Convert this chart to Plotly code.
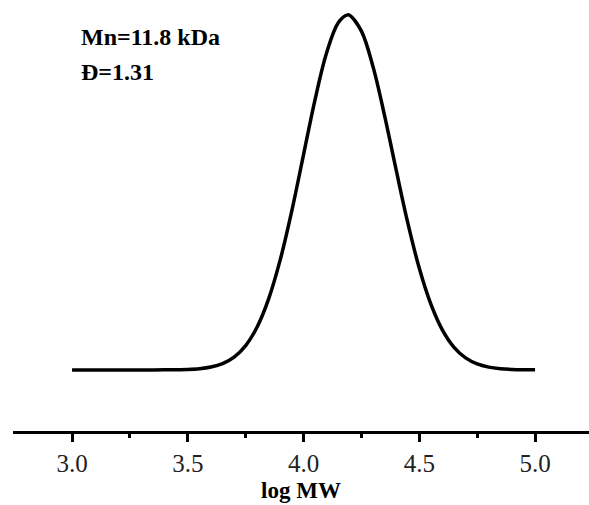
import plotly.graph_objects as go

# log MW values and normalized signal
log_mw = [3.00, 3.10, 3.20, 3.30, 3.40, 3.50, 3.55, 3.60, 3.65, 3.70, 3.75, 3.80, 3.85,
          3.90, 3.95, 4.00, 4.05, 4.10, 4.15, 4.19, 4.20, 4.25, 4.30, 4.35, 4.40,
          4.45, 4.50, 4.55, 4.60, 4.65, 4.70, 4.75, 4.80, 4.85, 4.90, 4.95, 5.00]
signal = [0.000, 0.000, 0.000, 0.000, 0.0003, 0.0014, 0.0034, 0.0081, 0.0176, 0.036, 0.0685,
          0.1216, 0.2017, 0.312, 0.4503, 0.6065, 0.7623, 0.8939, 0.978, 1.000, 0.9987,
          0.9542, 0.8543, 0.7166, 0.5633, 0.4148, 0.2863, 0.1851, 0.1121, 0.0637, 0.0339,
          0.0169, 0.0079, 0.0034, 0.0014, 0.0005, 0.0002]

tick_vals = [3.0, 3.5, 4.0, 4.5, 5.0]
tick_text = ["3.0", "3.5", "4.0", "4.5", "5.0"]
x_title = "log MW"
notes = ["Mn=11.8 kDa", "Đ=1.31"]

SERIF = "Liberation Serif, Times New Roman, DejaVu Serif, serif"

fig = go.Figure()
fig.add_trace(go.Scatter(x=log_mw, y=signal, mode="lines",
                         line=dict(color="black", width=3.5, shape="spline"),
                         showlegend=False, hoverinfo="skip"))

fig.update_layout(
    width=589, height=505,
    margin=dict(l=13, r=0, t=0, b=74),
    paper_bgcolor="white", plot_bgcolor="white",
    xaxis=dict(range=[2.745, 5.233], showgrid=False, zeroline=False,
               showline=True, linecolor="black", linewidth=3,
               tickmode="array", tickvals=tick_vals, ticktext=tick_text,
               ticks="outside", ticklen=8, tickwidth=3, tickcolor="black",
               minor=dict(tickvals=[3.25, 3.75, 4.25, 4.75], ticks="outside",
                          ticklen=4, tickwidth=2.5, tickcolor="black"),
               tickfont=dict(family=SERIF, size=25, color="#222"),
               title=dict(text="<b>" + x_title + "</b>", standoff=6,
                          font=dict(family=SERIF, size=23, color="black"))),
    yaxis=dict(range=[-0.172, 1.042], visible=False, showgrid=False, zeroline=False),
)

fig.add_annotation(text="<b>" + notes[0] + "</b>", xref="paper", yref="paper",
                   x=(79 - 13) / 576, y=1 - 37 / 431, xanchor="left", yanchor="middle",
                   showarrow=False, font=dict(family=SERIF, size=24, color="black"))
fig.add_annotation(text="<b>" + notes[1] + "</b>", xref="paper", yref="paper",
                   x=(79 - 13) / 576, y=1 - 72 / 431, xanchor="left", yanchor="middle",
                   showarrow=False, font=dict(family=SERIF, size=24, color="black"))

fig.write_html("out.html")
